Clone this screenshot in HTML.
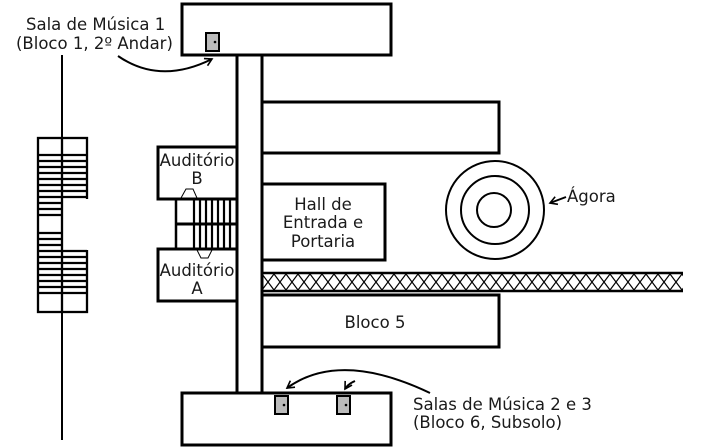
<!DOCTYPE html>
<html><head><meta charset="utf-8"><style>
html,body{margin:0;padding:0;background:#fff;}
svg{display:block;}
text{font-family:"DejaVu Sans","Liberation Sans",sans-serif;font-size:16.5px;fill:#1a1a1a;}
</style></head><body>
<svg width="705" height="448" viewBox="0 0 705 448" xmlns="http://www.w3.org/2000/svg">
<defs>
<pattern id="x" x="262" y="274" width="12" height="16" patternUnits="userSpaceOnUse">
<path d="M0 0 L12 16 M12 0 L0 16" stroke="#000" stroke-width="1.2" fill="none"/>
</pattern>
<marker id="ah" markerWidth="10" markerHeight="10" refX="8" refY="5" orient="auto" markerUnits="userSpaceOnUse">
<path d="M1 1 L8 5 L1 9" fill="none" stroke="#000" stroke-width="1.6"/>
</marker>
</defs>
<g fill="none" stroke="#000" stroke-width="3">
<line x1="62" y1="55" x2="62" y2="440" stroke-width="2"/>
<line x1="237" y1="55" x2="237" y2="393"/>
<line x1="262" y1="55" x2="262" y2="393"/>
<rect x="182" y="4" width="209" height="51" fill="#fff"/>
<rect x="182" y="393" width="209" height="52" fill="#fff"/>
<rect x="262" y="102" width="237" height="51"/>
<rect x="262" y="184" width="123" height="76"/>
<rect x="262" y="295" width="237" height="52"/>
<rect x="158" y="147" width="79" height="52"/>
<rect x="158" y="249" width="79" height="52"/>
</g>
<rect x="262" y="274" width="421" height="16" fill="url(#x)"/>
<line x1="262" y1="273" x2="683" y2="273" stroke="#000" stroke-width="2.5"/>
<line x1="262" y1="291" x2="683" y2="291" stroke="#000" stroke-width="2.5"/>
<g stroke="#000" fill="none">
<line x1="176" y1="199" x2="176" y2="249" stroke-width="2.5"/>
<line x1="176" y1="224" x2="237" y2="224" stroke-width="3"/>
<line x1="194" y1="199" x2="194" y2="249" stroke-width="2.2"/>
<line x1="200" y1="199" x2="200" y2="249" stroke-width="2.2"/>
<line x1="206" y1="199" x2="206" y2="249" stroke-width="2.2"/>
<line x1="212" y1="199" x2="212" y2="249" stroke-width="2.2"/>
<line x1="218" y1="199" x2="218" y2="249" stroke-width="2.2"/>
<line x1="224" y1="199" x2="224" y2="249" stroke-width="2.2"/>
<line x1="230" y1="199" x2="230" y2="249" stroke-width="2.2"/>
<path d="M181 198 L186 189 L193 189 L197 198" stroke-width="1"/>
<path d="M197 250 L201 258 L208 258 L212 250" stroke-width="1"/>
</g>
<g stroke="#000" fill="none" stroke-width="2.3">
<rect x="38" y="138" width="49" height="174"/>
<line x1="62" y1="138" x2="62" y2="312"/>
<path d="M38 155 H87 M38 161 H87 M38 167 H87 M38 173 H87 M38 179 H87 M38 185 H87 M38 191 H87 M38 197 H87"/>
<path d="M38 203 H62 M38 209 H62 M38 215 H62"/>
<line x1="87" y1="199" x2="87" y2="250" stroke="#fff" stroke-width="3"/>
<path d="M38 233 H62 M38 239 H62 M38 245 H62 M38 251 H87 M38 257 H87 M38 263 H87 M38 269 H87 M38 275 H87 M38 281 H87 M38 287 H87 M38 293 H87"/>
</g>
<g stroke="#000" stroke-width="2" fill="#bbb">
<rect x="206" y="33" width="13" height="18"/>
<rect x="275" y="396" width="13" height="18"/>
<rect x="337" y="396" width="13" height="18"/>
</g>
<g fill="#000"><circle cx="215" cy="42" r="1.3"/><circle cx="284" cy="405" r="1.3"/><circle cx="346" cy="405" r="1.3"/></g>
<g stroke="#000" stroke-width="2" fill="none">
<circle cx="495" cy="210" r="49"/>
<circle cx="495" cy="210" r="34"/>
<circle cx="494" cy="210" r="17"/>
</g>
<g stroke="#000" stroke-width="2" fill="none">
<path d="M118 56 Q160 85 212 59" marker-end="url(#ah)"/>
<path d="M430 393 Q340 350 287 388" marker-end="url(#ah)"/>
<path d="M355 381 Q348 384 345 389" marker-end="url(#ah)"/>
<path d="M566 197 L550 203" marker-end="url(#ah)"/>
</g>
<text x="26" y="30">Sala de Música 1</text>
<text x="16" y="49">(Bloco 1, 2º Andar)</text>
<text x="197" y="166" text-anchor="middle">Auditório</text>
<text x="197" y="184" text-anchor="middle">B</text>
<text x="197" y="276" text-anchor="middle">Auditório</text>
<text x="197" y="294" text-anchor="middle">A</text>
<text x="323" y="210" text-anchor="middle">Hall de</text>
<text x="323" y="228" text-anchor="middle">Entrada e</text>
<text x="323" y="247" text-anchor="middle">Portaria</text>
<text x="375" y="328" text-anchor="middle">Bloco 5</text>
<text x="567" y="202">Ágora</text>
<text x="413" y="410">Salas de Música 2 e 3</text>
<text x="413" y="428">(Bloco 6, Subsolo)</text>
</svg>
</body></html>
